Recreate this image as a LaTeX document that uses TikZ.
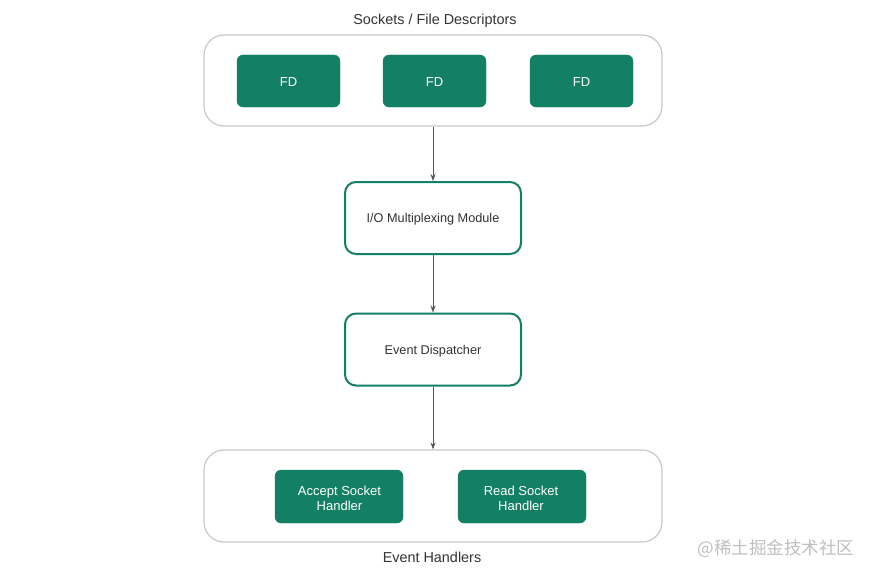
\documentclass[tikz,border=0pt]{standalone}
\usepackage{fontspec}
\setmainfont{Liberation Sans}
\newfontfamily\cjk{Noto Sans CJK SC}
\usetikzlibrary{arrows.meta}
\definecolor{gfill}{HTML}{138066}
\definecolor{gline}{HTML}{C8C8C8}
\definecolor{txt}{HTML}{333333}
\definecolor{arr}{HTML}{555555}
\tikzset{
  x=1pt, y=-1pt,
  group/.style={draw=gline, line width=1.2pt, rounded corners=20pt, fill=white},
  solid box/.style={fill=gfill, draw=gfill, rounded corners=6pt, text=white, font=\fontsize{13}{15}\selectfont, align=center, inner sep=0pt},
  stage/.style={draw=gfill, line width=2pt, rounded corners=11pt, fill=white, text=txt, font=\fontsize{12.7}{14.5}\selectfont, inner sep=0pt},
  lbl/.style={text=txt, font=\fontsize{14.4}{16}\selectfont},
  conn/.style={draw=arr, line width=0.8pt, -{Stealth[length=7pt,width=5pt]}},
}
\begin{document}
\begin{tikzpicture}
\useasboundingbox (0,0) rectangle (875,578);
\fill[white] (0,0) rectangle (875,578);
% top group
\node[lbl] (ttl) at (435,20.5) {Sockets / File Descriptors};
\node[group, minimum width=458pt, minimum height=91pt] (top) at (433,80.5) {};
\node[solid box, minimum width=103pt, minimum height=52pt] (fd1) at (288.5,81) {};
\node[solid box, minimum width=103pt, minimum height=52pt] (fd2) at (434.5,81) {};
\node[solid box, minimum width=103pt, minimum height=52pt] (fd3) at (581.5,81) {};
\node[solid box] (fd1t) at (288.5,82) {FD};
\node[solid box] (fd2t) at (434.5,82) {FD};
\node[solid box] (fd3t) at (581.5,82) {FD};
% stages
\node[stage, minimum width=176pt, minimum height=72pt] (io) at (433,218) {};
\node[stage, minimum width=176pt, minimum height=72pt] (ed) at (433,349.5) {};
\node[text=txt, font=\fontsize{12.7}{14.5}\selectfont] (iot) at (433,219.5) {I/O Multiplexing Module};
\node[text=txt, font=\fontsize{12.7}{14.5}\selectfont] (edt) at (433,351) {Event Dispatcher};
% bottom group
\node[group, minimum width=458pt, minimum height=92pt] (bot) at (433,496) {};
\node[solid box, minimum width=128pt, minimum height=53pt] (acc) at (339,496.5) {};
\node[solid box, minimum width=128pt, minimum height=53pt] (rd) at (522,496.5) {};
\node[solid box] (acct) at (339.5,498.5) {Accept Socket\\Handler};
\node[solid box] (rdt) at (521,498.5) {Read Socket\\Handler};
\node[lbl] (eh) at (432,557.5) {Event Handlers};
% connectors
\draw[conn] (top.south) -- (io.north);
\draw[conn] (io.south) -- (ed.north);
\draw[conn] (ed.south) -- (bot.north);
% watermark
\node[text=black!25, font=\cjk\fontsize{17.5}{19}\selectfont] (wm) at (776,549) {@稀土掘金技术社区};
\end{tikzpicture}
\end{document}
